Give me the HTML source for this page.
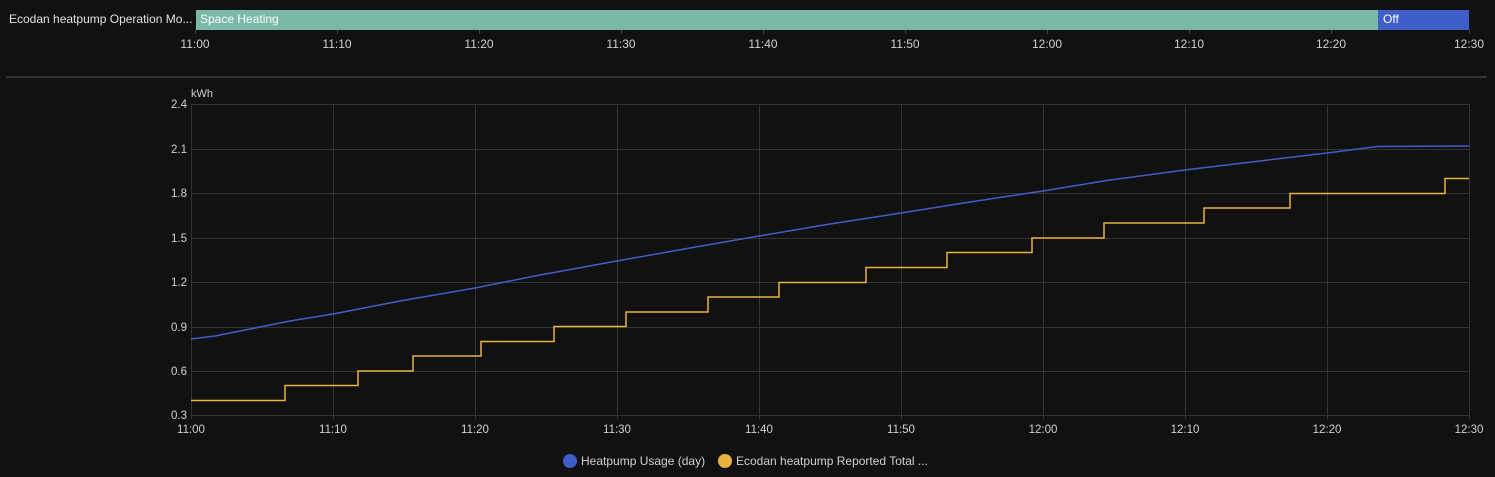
<!DOCTYPE html><html><head><style>html,body{margin:0;background:#111111;font-family:"Liberation Sans",sans-serif;overflow:hidden;}svg{display:block}</style></head><body>
<svg width="1495" height="477" xmlns="http://www.w3.org/2000/svg" font-family="Liberation Sans, sans-serif">
<rect width="1495" height="477" fill="#111111"/>
<text x="9" y="23" fill="#e1e1e1" font-size="12">Ecodan heatpump Operation Mo...</text>
<rect x="196" y="10" width="1182" height="20" fill="#79b9a7"/>
<rect x="1378" y="10" width="91" height="20" fill="#3f5ec8"/>
<text x="200" y="23" fill="#fff" font-size="12">Space Heating</text>
<text x="1383" y="23" fill="#fff" font-size="12">Off</text>
<g stroke="#444" stroke-width="1">
<line x1="195.5" y1="30" x2="195.5" y2="34"/><line x1="337.5" y1="30" x2="337.5" y2="34"/><line x1="479.5" y1="30" x2="479.5" y2="34"/><line x1="621.5" y1="30" x2="621.5" y2="34"/><line x1="763.5" y1="30" x2="763.5" y2="34"/><line x1="905.5" y1="30" x2="905.5" y2="34"/><line x1="1047.5" y1="30" x2="1047.5" y2="34"/><line x1="1189.5" y1="30" x2="1189.5" y2="34"/><line x1="1331.5" y1="30" x2="1331.5" y2="34"/><line x1="1469.5" y1="30" x2="1469.5" y2="34"/>
</g>
<g fill="#d0d0d0" font-size="12" text-anchor="middle">
<text x="195" y="48">11:00</text><text x="337" y="48">11:10</text><text x="479" y="48">11:20</text><text x="621" y="48">11:30</text><text x="763" y="48">11:40</text><text x="905" y="48">11:50</text><text x="1047" y="48">12:00</text><text x="1189" y="48">12:10</text><text x="1331" y="48">12:20</text><text x="1469" y="48">12:30</text>
</g>
<line x1="6" y1="77" x2="1487" y2="77" stroke="#333" stroke-width="2"/>
<text x="191" y="97" fill="#d0d0d0" font-size="11">kWh</text>
<g stroke="#333" stroke-width="1">
<line x1="191" y1="104.5" x2="1469" y2="104.5"/><line x1="191" y1="149.5" x2="1469" y2="149.5"/><line x1="191" y1="193.5" x2="1469" y2="193.5"/><line x1="191" y1="238.5" x2="1469" y2="238.5"/><line x1="191" y1="282.5" x2="1469" y2="282.5"/><line x1="191" y1="327.5" x2="1469" y2="327.5"/><line x1="191" y1="371.5" x2="1469" y2="371.5"/><line x1="191" y1="415.5" x2="1469" y2="415.5"/>
<line x1="191.5" y1="104" x2="191.5" y2="419"/><line x1="333.5" y1="104" x2="333.5" y2="419"/><line x1="475.5" y1="104" x2="475.5" y2="419"/><line x1="617.5" y1="104" x2="617.5" y2="419"/><line x1="759.5" y1="104" x2="759.5" y2="419"/><line x1="901.5" y1="104" x2="901.5" y2="419"/><line x1="1043.5" y1="104" x2="1043.5" y2="419"/><line x1="1185.5" y1="104" x2="1185.5" y2="419"/><line x1="1327.5" y1="104" x2="1327.5" y2="419"/><line x1="1469.5" y1="104" x2="1469.5" y2="419"/>
</g>
<g fill="#d0d0d0" font-size="11.5" text-anchor="end">
<text x="187" y="108">2.4</text><text x="187" y="153">2.1</text><text x="187" y="197">1.8</text><text x="187" y="242">1.5</text><text x="187" y="286">1.2</text><text x="187" y="331">0.9</text><text x="187" y="375">0.6</text><text x="187" y="419">0.3</text>
</g>
<g fill="#d0d0d0" font-size="11.5" text-anchor="middle">
<text x="191" y="433">11:00</text><text x="333" y="433">11:10</text><text x="475" y="433">11:20</text><text x="617" y="433">11:30</text><text x="759" y="433">11:40</text><text x="901" y="433">11:50</text><text x="1043" y="433">12:00</text><text x="1185" y="433">12:10</text><text x="1327" y="433">12:20</text><text x="1469" y="433">12:30</text>
</g>
<polyline fill="none" stroke="#3f5ec8" stroke-width="1.5" points="191,339 215,336 240,331 265,326 290,321 333,314 400,301 475,288 540,275 617,261 690,248 759,236 830,224 901,213 970,202 1043,191 1110,180 1185,170 1260,161 1327,153 1377,146.5 1469,146"/>
<polyline fill="none" stroke="#e8b33f" stroke-width="1.5" points="191,400.5 285,400.5 285,385.5 358,385.5 358,371 413,371 413,356 481,356 481,341.5 554,341.5 554,326.5 626,326.5 626,312 708,312 708,297 779,297 779,282.5 866,282.5 866,267.5 947,267.5 947,252.5 1032,252.5 1032,238 1104,238 1104,223 1204,223 1204,208 1290,208 1290,193.5 1445,193.5 1445,178.5 1469,178.5"/>
<circle cx="570" cy="461" r="7" fill="#3f5ec8"/>
<text x="581" y="465" fill="#d0d0d0" font-size="12">Heatpump Usage (day)</text>
<circle cx="725" cy="461" r="7" fill="#e8b33f"/>
<text x="736" y="465" fill="#d0d0d0" font-size="12">Ecodan heatpump Reported Total ...</text>
</svg>
</body></html>
